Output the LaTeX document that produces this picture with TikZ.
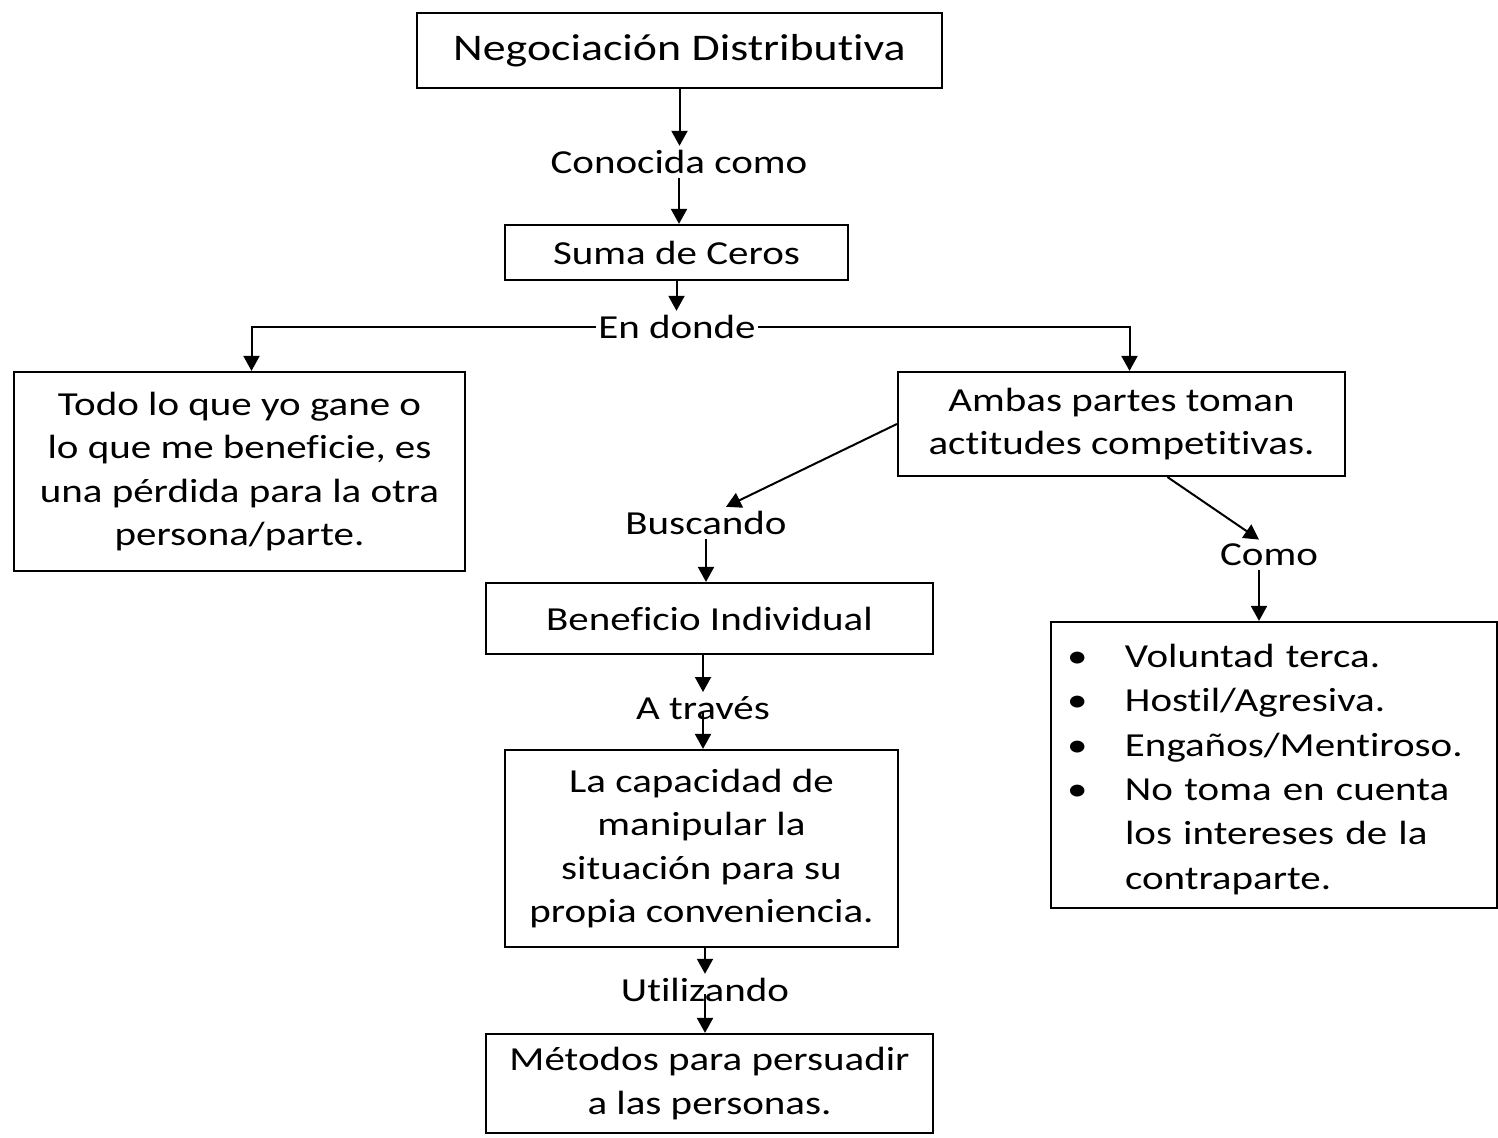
\documentclass[tikz,border=0pt]{standalone}
\usepackage{fontspec}
\setmainfont[FakeStretch=1.22, Ligatures={NoCommon}]{Carlito}
\usetikzlibrary{arrows.meta,positioning}

\begin{document}
\begin{tikzpicture}[
  x=0.5pt, y=-0.5pt,
  font=\fontsize{16.8}{21.8}\selectfont,
  box/.style   = {draw, line width=1.1pt, align=center, inner sep=4pt},
  lbl/.style   = {inner xsep=1pt, inner ysep=2pt},
  arrow/.style = {-{Triangle[length=7.5pt,width=8pt]}, line width=1pt},
]
\useasboundingbox (0,0) rectangle (1498,1138);

% ===== Top chain =====
\node[box, minimum width=262.5pt, minimum height=37.5pt,
      font=\fontsize{18.8}{22}\selectfont] (nd) at (679.5,50.5)
      {Negociación Distributiva};
\node[lbl] (conocida) at (679,162) {Conocida como};
\node[box, minimum width=171.5pt, minimum height=27.5pt] (suma) at (676.5,252.5)
      {Suma de Ceros};
\node[lbl] (endonde) at (677,327) {En donde};

% ===== Two branches =====
\node[box, minimum width=225.5pt, minimum height=99.5pt] (todo) at (239.5,471.5)
      {Todo lo que yo gane o\\lo que me beneficie, es\\una pérdida para la otra\\persona/parte.};
\node[box, minimum width=223.5pt, minimum height=52pt] (ambas) at (1121.5,424)
      {Ambas partes toman\\actitudes competitivas.};

% ===== Middle column =====
\node[lbl] (buscando) at (706,523) {Buscando};
\node[box, minimum width=223.5pt, minimum height=35.5pt] (benef) at (709.5,618.5)
      {Beneficio Individual};
\node[lbl] (atraves) at (703,708) {A través};
\node[box, minimum width=196.5pt, minimum height=98.5pt] (capac) at (701.5,848.5)
      {La capacidad de\\manipular la\\situación para su\\propia conveniencia.};
\node[lbl] (utilizando) at (705,990) {Utilizando};
\node[box, minimum width=223.5pt, minimum height=49.5pt] (metodos) at (709.5,1083.5)
      {Métodos para persuadir\\a las personas.};

% ===== Right column =====
\node[lbl] (como) at (1269,555) {Como};
\node[box, align=left, inner xsep=8pt, text width=207pt, minimum height=143pt,
      font=\fontsize{16.8}{22.2}\selectfont] (lista) at (1274,765) {%
  \rule{0pt}{16pt}\makebox[29pt][l]{\textbullet}Voluntad terca.\\
  \makebox[29pt][l]{\textbullet}Hostil/Agresiva.\\
  \makebox[29pt][l]{\textbullet}Engaños/Mentiroso.\\
  \makebox[29pt][l]{\textbullet}No toma en cuenta\\
  \hspace*{29pt}los intereses de la\\
  \hspace*{29pt}contraparte.};

% ===== Connectors =====
\draw[arrow] (nd.south) -- (nd.south |- conocida.north);
\draw[arrow] (conocida.south) -- (conocida.south |- suma.north);
\draw[arrow] (suma.south) -- (suma.south |- endonde.north);
\draw[arrow] (endonde.west) -| ([xshift=6pt]todo.north);
\draw[arrow] (endonde.east) -| ([xshift=4pt]ambas.north);
\draw[arrow] (ambas.west) -- ([xshift=10pt]buscando.north);
\draw[arrow] ([xshift=23pt]ambas.south) -- ([xshift=-5pt]como.north);
\draw[arrow] (buscando.south) -- (buscando.south |- benef.north);
\draw[arrow] (atraves.north |- benef.south) -- (atraves.north);
\draw[arrow] ([yshift=-2pt]atraves.center) -- (atraves.center |- capac.north);
\draw[arrow] (utilizando.north |- capac.south) -- (utilizando.north);
\draw[arrow] ([yshift=-2pt]utilizando.center) -- (utilizando.center |- metodos.north);
\draw[arrow] ([xshift=-5pt]como.south) -- ([xshift=-5pt]como.south |- lista.north);

\end{tikzpicture}
\end{document}
